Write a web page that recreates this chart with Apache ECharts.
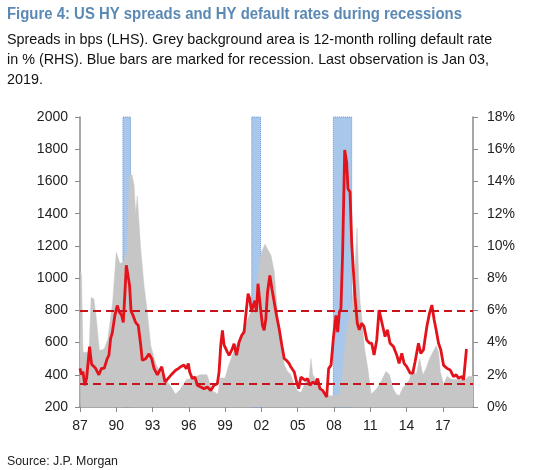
<!DOCTYPE html>
<html><head><meta charset="utf-8">
<script src="https://cdn.jsdelivr.net/npm/echarts@6/dist/echarts.min.js"></script>
<style>html,body{margin:0;padding:0;background:#fff}#c{width:550px;height:470px}</style>
</head><body><div id="c"></div>
<script>
const titleText = 'Figure 4: US HY spreads and HY default rates during recessions';
const subtitleLines = [
  'Spreads in bps (LHS). Grey background area is 12-month rolling default rate',
  'in % (RHS). Blue bars are marked for recession. Last observation is Jan 03,',
  '2019.'
];
const sourceText = 'Source: J.P. Morgan';
const xTickLabels = ['87','90','93','96','99','02','05','08','11','14','17'];
const baseYear = 1987;

const spreadYears = [1987.00,1987.12,1987.24,1987.40,1987.55,1987.79,1987.96,1988.29,1988.56,1988.78,1989.00,1989.12,1989.25,1989.39,1989.53,1989.67,1989.89,1990.08,1990.22,1990.44,1990.58,1990.72,1990.83,1990.97,1991.10,1991.22,1991.38,1991.60,1991.82,1992.02,1992.15,1992.43,1992.71,1992.93,1993.12,1993.40,1993.76,1994.03,1994.20,1994.36,1994.63,1994.91,1995.13,1995.32,1995.60,1995.79,1995.96,1996.07,1996.29,1996.51,1996.70,1996.98,1997.26,1997.53,1997.81,1998.09,1998.36,1998.50,1998.64,1998.78,1998.91,1999.19,1999.33,1999.60,1999.74,1999.94,2000.16,2000.38,2000.57,2000.71,2000.90,2001.04,2001.18,2001.32,2001.46,2001.59,2001.72,2001.85,2001.96,2002.09,2002.23,2002.37,2002.51,2002.70,2002.87,2003.06,2003.25,2003.47,2003.69,2003.89,2004.08,2004.30,2004.44,2004.72,2004.91,2005.08,2005.27,2005.41,2005.63,2005.82,2006.02,2006.24,2006.46,2006.65,2006.84,2007.07,2007.23,2007.40,2007.56,2007.76,2007.95,2008.17,2008.31,2008.45,2008.58,2008.72,2008.89,2009.05,2009.16,2009.33,2009.47,2009.74,2009.93,2010.10,2010.30,2010.49,2010.71,2010.93,2011.12,2011.32,2011.54,2011.73,2011.95,2012.23,2012.42,2012.64,2012.92,2013.19,2013.39,2013.61,2013.80,2014.02,2014.30,2014.52,2014.71,2014.99,2015.18,2015.40,2015.68,2015.90,2016.10,2016.29,2016.45,2016.65,2016.84,2017.06,2017.34,2017.61,2017.89,2018.11,2018.30,2018.58,2018.72,2018.85,2018.96];
const spreadBps = [440,400,420,335,380,575,465,440,400,440,440,430,500,520,625,660,770,830,795,770,725,915,1080,1090,955,795,770,725,705,585,490,500,530,500,440,400,450,355,370,376,407,428,438,450,460,438,470,417,376,386,335,324,314,324,303,335,345,417,585,676,585,541,521,562,593,521,604,645,665,770,903,872,790,830,860,790,965,870,790,707,676,748,914,1017,934,852,769,686,583,500,490,469,448,417,355,314,386,397,366,376,335,355,345,376,314,303,283,262,438,460,624,769,665,790,810,1162,1795,1720,1555,1535,1216,885,720,679,720,700,616,596,596,523,616,802,729,637,679,596,575,523,471,533,471,451,410,410,481,596,533,554,698,781,833,740,679,596,554,460,440,430,389,400,379,389,368,372,560];

const defaultYears = [1987.00,1987.05,1987.12,1987.25,1987.75,1987.92,1988.15,1988.35,1988.6,1989.0,1989.3,1989.7,1990.0,1990.3,1990.6,1990.9,1991.1,1991.3,1991.47,1991.6,1991.74,1992.0,1992.3,1992.57,1992.85,1993.3,1993.8,1994.4,1994.9,1995.3,1995.8,1996.4,1996.9,1997.5,1997.95,1998.4,1998.6,1999.0,1999.3,1999.9,2000.2,2000.7,2001.0,2001.3,2001.6,2001.8,2002.0,2002.3,2002.5,2002.8,2003.06,2003.33,2003.6,2003.9,2004.16,2004.44,2004.7,2005.0,2005.27,2005.7,2005.95,2006.1,2006.25,2006.5,2006.9,2007.34,2007.6,2008.2,2008.45,2008.7,2008.9,2009.1,2009.3,2009.55,2009.77,2009.91,2010.05,2010.16,2010.33,2010.52,2010.8,2011.07,2011.35,2011.6,2012.04,2012.3,2012.6,2012.87,2013.14,2013.4,2013.7,2013.97,2014.25,2014.5,2014.8,2015.08,2015.35,2015.63,2015.9,2016.18,2016.46,2016.65,2016.8,2017.07,2017.35,2017.75,2018.5,2018.9,2019.1,2019.5];
const defaultRate = [3.4,8.4,8.2,3.4,3.4,6.8,6.7,5.5,3.5,3.6,4.2,6.5,9.6,8.9,9.0,9.6,14.4,14.4,13.8,12.0,13.1,10.0,7.5,5.9,3.8,2.6,2.0,1.4,0.8,1.1,1.7,1.8,2.0,2.0,1.0,0.8,1.8,1.8,2.6,3.8,4.3,5.1,5.7,6.1,7.5,8.5,9.6,10.1,9.8,9.4,8.4,5.9,3.8,2.6,2.2,2.0,1.4,1.0,0.9,1.6,1.8,3.0,2.0,1.7,1.0,0.8,0.7,0.7,0.8,1.8,3.5,5.0,5.5,6.9,9.0,11.1,8.0,6.5,5.3,3.7,2.4,0.8,1.0,1.2,1.8,2.2,2.0,1.2,0.8,0.7,1.2,1.4,1.7,2.4,2.0,3.0,2.0,2.4,3.0,3.4,3.8,3.4,2.2,1.4,1.9,1.7,1.7,1.7,1.9,1.9];

const recessionStart = [1990.55, 2001.2, 2007.95];
const recessionEnd = [1991.18, 2001.93, 2009.47];
const thresholdBps = [800, 345];

const FONT = '"Liberation Sans", Arial, sans-serif';
const chart = echarts.init(document.getElementById('c'), null, {renderer: 'canvas'});

const spreadData = spreadYears.map((y, i) => [y - baseYear, spreadBps[i]]);
const defaultData = defaultYears.map((y, i) => [y - baseYear, defaultRate[i]]);
const recessionAreas = recessionStart.map((s, i) => [{xAxis: s - baseYear}, {xAxis: recessionEnd[i] - baseYear}]);

const graphics = [
  {type: 'text', x: 7, y: 7, scaleX: 0.932, style: {text: titleText, font: 'bold 16px ' + FONT, fill: '#5b89b4'}}
].concat(subtitleLines.map((t, i) => ({
  type: 'text', x: 7, y: 32 + i * 20.3, scaleX: 0.957, style: {text: t, font: '15px ' + FONT, fill: '#111'}
}))).concat([
  {type: 'text', x: 7, y: 455, scaleX: 0.95, style: {text: sourceText, font: '13px ' + FONT, fill: '#222'}}
]);

chart.setOption({
  animation: false,
  graphic: graphics,
  grid: {left: 80, right: 77, top: 117, bottom: 63},
  xAxis: {
    type: 'value', min: 0, max: 32.5, interval: 3,
    axisLine: {lineStyle: {color: '#8a8a8a', width: 1.5}},
    axisTick: {show: true, length: 5, lineStyle: {color: '#8a8a8a'}},
    splitLine: {show: false},
    axisLabel: {
      color: '#222', fontFamily: FONT, fontSize: 14, margin: 12, showMaxLabel: false,
      formatter: v => xTickLabels[Math.round(v / 3)] || ''
    }
  },
  yAxis: [{
    type: 'value', min: 200, max: 2000, interval: 200, position: 'left',
    axisLine: {show: true, lineStyle: {color: '#8a8a8a', width: 1.5}},
    axisTick: {show: true, length: 5, lineStyle: {color: '#8a8a8a'}},
    splitLine: {show: false},
    axisLabel: {color: '#222', fontFamily: FONT, fontSize: 14, margin: 12, formatter: v => String(v)}
  }, {
    type: 'value', min: 0, max: 18, interval: 2, position: 'right',
    axisLine: {show: true, lineStyle: {color: '#8a8a8a', width: 1.5}},
    axisTick: {show: true, length: 5, lineStyle: {color: '#8a8a8a'}},
    splitLine: {show: false},
    axisLabel: {color: '#222', fontFamily: FONT, fontSize: 14, margin: 14, formatter: v => v + '%'}
  }],
  series: [{
    name: 'recession', type: 'line', yAxisIndex: 0, z: 1,
    data: [[0, 200], [32.5, 200]], symbol: 'none', lineStyle: {opacity: 0}, silent: true,
    markArea: {
      silent: true,
      itemStyle: {color: '#a9c7ea', borderColor: '#5d95d2', borderWidth: 1, borderType: 'dotted'},
      data: recessionAreas
    }
  }, {
    name: 'default rate', type: 'line', yAxisIndex: 1, z: 2,
    data: defaultData, symbol: 'none', silent: true,
    lineStyle: {width: 0.5, color: '#c6c6c6'},
    areaStyle: {color: '#c6c6c6', opacity: 1}
  }, {
    name: 'spread', type: 'line', yAxisIndex: 0, z: 3,
    data: spreadData, symbol: 'none', silent: true,
    lineStyle: {width: 2.8, color: '#e3121b'},
    markLine: {
      silent: true, symbol: 'none', label: {show: false},
      lineStyle: {color: '#c8141c', width: 2.2, type: [8, 5]},
      data: thresholdBps.map(v => ({yAxis: v}))
    }
  }]
});
</script></body></html>
